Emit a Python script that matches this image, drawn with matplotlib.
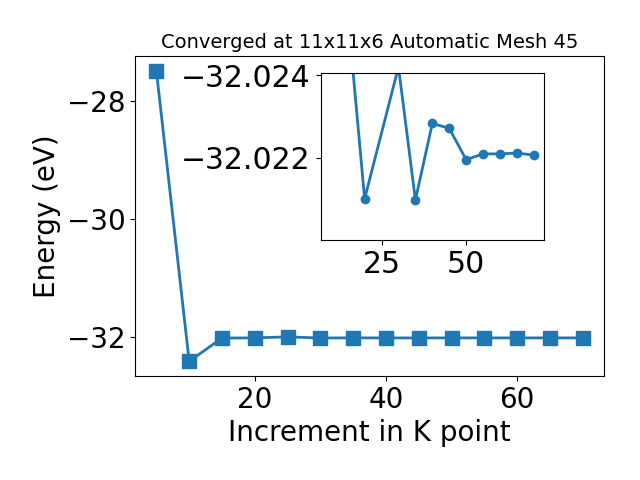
import numpy as np
import matplotlib
matplotlib.use("Agg")
import matplotlib.pyplot as plt

## K POINT CONVERGENCE
k_points = [5, 10, 15, 20, 25, 30, 35, 40, 45, 50, 55, 60, 65, 70]
energy = [-27.48, -32.42, -32.0255, -32.02100, -32.005, -32.0242, -32.02097,
          -32.02283, -32.02271, -32.02195, -32.02209, -32.02209, -32.02211, -32.02206]

# zoomed view (inset)
k_inset = [10, 15, 20, 30, 35, 40, 45, 50, 55, 60, 65, 70]
energy_inset = [-32.42, -32.0255, -32.02100, -32.0242, -32.02097, -32.02283,
                -32.02271, -32.02195, -32.02209, -32.02209, -32.02211, -32.02206]

fig = plt.figure(figsize=(6.4, 4.8), dpi=100)
ax = fig.add_axes([0.211, 0.217, 0.733, 0.666])
ax.plot(k_points, energy, marker='s', markersize=10, linewidth=2, color='#1f77b4')
ax.set_title('Converged at 11x11x6 Automatic Mesh 45', fontsize=14)
ax.set_xlabel('Increment in K point', fontsize=20)
ax.set_ylabel('Energy (eV)', fontsize=20)
ax.tick_params(labelsize=20)

ax2 = fig.add_axes([0.501, 0.5, 0.349, 0.3485])
ax2.plot(k_inset, energy_inset, marker='o', markersize=6, linewidth=2, color='#1f77b4')
ax2.set_ylim(-32.0200, -32.02406)
ax2.set_yticks([-32.024, -32.022])
ax2.ticklabel_format(axis='y', useOffset=False)
ax2.set_xticks([25, 50])
ax2.tick_params(labelsize=21.5)

plt.savefig('out.png')
